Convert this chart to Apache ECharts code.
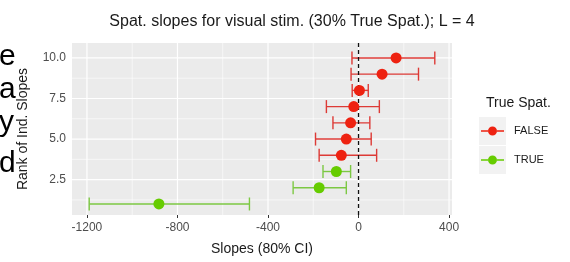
<!DOCTYPE html>
<html>
<head>
<meta charset="utf-8">
<script src="https://cdn.jsdelivr.net/npm/echarts@6/dist/echarts.min.js"></script>
<style>
  html, body { margin: 0; padding: 0; background: #fff; }
  #chart { width: 570px; height: 262px; }
</style>
</head>
<body>
<div id="chart"></div>
<script>
// rank of individual slope, slope estimate, 80% CI bounds
var ranks = [1, 2, 3, 4, 5, 6, 7, 8, 9, 10];
var slopes = [-882, -174, -98, -76, -54, -35, -21, 4, 104, 166];
var lower = [-1190, -289, -157, -174, -190, -113, -142, -28, -33, -29];
var upper = [-482, -54, -35, 80, 56, 50, 92, 43, 265, 337];
var trueSpat = [true, true, true, false, false, false, false, false, false, false];

var xTicks = [-1200, -800, -400, 0, 400];
var xMinor = [-1000, -600, -200, 200];
var yTicks = [2.5, 5, 7.5, 10];
var yMinor = [1.25, 3.75, 6.25, 8.75];

var xMin = -1266, xMax = 413;
var yMin = 0.32, yMax = 10.92;

var colors = {
  FALSE: { point: '#ee2211', bar: '#dd3a36' },
  TRUE: { point: '#66cc00', bar: '#7cc843' }
};

function pick(flag) {
  var pts = [], bars = [];
  ranks.forEach(function (r, i) {
    if (trueSpat[i] === flag) {
      pts.push([slopes[i], r]);
      bars.push([lower[i], upper[i], r]);
    }
  });
  return { pts: pts, bars: bars };
}
var grpF = pick(false), grpT = pick(true);

function errorBars(color) {
  return function (params, api) {
    var y = api.value(2);
    var a = api.coord([api.value(0), y]);
    var b = api.coord([api.value(1), y]);
    var h = 6.5;
    var st = { stroke: color, lineWidth: 1.4 };
    return {
      type: 'group',
      children: [
        { type: 'line', shape: { x1: a[0], y1: a[1], x2: b[0], y2: b[1] }, style: st },
        { type: 'line', shape: { x1: a[0], y1: a[1] - h, x2: a[0], y2: a[1] + h }, style: st },
        { type: 'line', shape: { x1: b[0], y1: b[1] - h, x2: b[0], y2: b[1] + h }, style: st }
      ]
    };
  };
}

function vLines(width, dash, color) {
  return function (params, api) {
    var cs = params.coordSys;
    var p = api.coord([api.value(0), yMin]);
    return {
      type: 'line',
      shape: { x1: p[0], y1: cs.y, x2: p[0], y2: cs.y + cs.height },
      style: { stroke: color, lineWidth: width, lineDash: dash }
    };
  };
}
function hLines(width) {
  return function (params, api) {
    var cs = params.coordSys;
    var p = api.coord([xMin, api.value(1)]);
    return {
      type: 'line',
      shape: { x1: cs.x, y1: p[1], x2: cs.x + cs.width, y2: p[1] },
      style: { stroke: '#ffffff', lineWidth: width }
    };
  };
}

var legendIcon = 'path://M0,4L7,4L7,5.4L0,5.4Z M16,4L23,4L23,5.4L16,5.4Z M7,4.7a4.5,4.5 0 1,0 9,0a4.5,4.5 0 1,0 -9,0Z';
var letterFont = '30px "Liberation Sans"';

var chart = echarts.init(document.getElementById('chart'));
chart.setOption({
  animation: false,
  title: [
    {
      text: 'Spat. slopes for visual stim. (30% True Spat.); L = 4',
      left: 287, top: 9, textAlign: 'center',
      textStyle: { fontFamily: 'Liberation Sans', fontSize: 16, fontWeight: 'normal', color: '#1a1a1a' }
    },
    {
      text: 'True Spat.',
      left: 481, top: 91,
      textStyle: { fontFamily: 'Liberation Sans', fontSize: 14, fontWeight: 'normal', color: '#1a1a1a' }
    }
  ],
  graphic: [
    // fragments of neighbouring page text, cut at the left edge
    { type: 'text', left: -1, top: 42, style: { text: 'e', font: letterFont, fill: '#000' } },
    { type: 'text', left: -1, top: 75, style: { text: 'a', font: letterFont, fill: '#000' } },
    { type: 'text', left: -1, top: 108, style: { text: 'y', font: letterFont, fill: '#000' } },
    { type: 'text', left: -1, top: 149, style: { text: 'd', font: letterFont, fill: '#000' } },
    // legend key backgrounds
    { type: 'rect', left: 479, top: 117, shape: { width: 27, height: 28 }, style: { fill: '#f2f2f2' }, z: 0 },
    { type: 'rect', left: 479, top: 146, shape: { width: 27, height: 28 }, style: { fill: '#f2f2f2' }, z: 0 }
  ],
  legend: {
    data: ['FALSE', 'TRUE'],
    orient: 'vertical',
    left: 481, top: 124.5, padding: 0,
    itemWidth: 23, itemHeight: 9, itemGap: 16,
    icon: legendIcon,
    textStyle: { fontFamily: 'Liberation Sans', fontSize: 11, color: '#1a1a1a', padding: [0, 0, 0, 5], lineHeight: 13 },
    selectedMode: false
  },
  grid: {
    left: 72, right: 118, top: 43, bottom: 47,
    show: true, backgroundColor: '#ebebeb', borderWidth: 0
  },
  xAxis: {
    type: 'value', min: xMin, max: xMax,
    name: 'Slopes (80% CI)', nameLocation: 'middle', nameGap: 27,
    nameTextStyle: { fontFamily: 'Liberation Sans', fontSize: 14, color: '#1a1a1a' },
    axisLine: { show: false },
    axisTick: { show: true, length: 3, customValues: xTicks, lineStyle: { color: '#333333' } },
    axisLabel: {
      customValues: xTicks, margin: 7, fontFamily: 'Liberation Sans', fontSize: 12, color: '#4d4d4d',
      formatter: function (v) { return String(v); }
    },
    splitLine: { show: false }
  },
  yAxis: {
    type: 'value', min: yMin, max: yMax,
    name: 'Rank of Ind. Slopes', nameLocation: 'middle', nameGap: 42,
    nameTextStyle: { fontFamily: 'Liberation Sans', fontSize: 14, color: '#1a1a1a' },
    axisLine: { show: false },
    axisTick: { show: true, length: 3, customValues: yTicks, lineStyle: { color: '#333333' } },
    axisLabel: {
      customValues: yTicks, margin: 6, fontFamily: 'Liberation Sans', fontSize: 12, color: '#4d4d4d',
      formatter: function (v) { return v.toFixed(1); }
    },
    splitLine: { show: false }
  },
  series: [
    { type: 'custom', silent: true, z: 1, data: xMinor.map(function (v) { return [v, 1]; }), renderItem: vLines(0.6, null, '#ffffff') },
    { type: 'custom', silent: true, z: 1, data: xTicks.map(function (v) { return [v, 1]; }), renderItem: vLines(1.2, null, '#ffffff') },
    { type: 'custom', silent: true, z: 1, data: yMinor.map(function (v) { return [0, v]; }), renderItem: hLines(0.6) },
    { type: 'custom', silent: true, z: 1, data: yTicks.map(function (v) { return [0, v]; }), renderItem: hLines(1.2) },
    { type: 'custom', name: 'barsF', silent: true, z: 2, data: grpF.bars, renderItem: errorBars(colors.FALSE.bar) },
    { type: 'custom', name: 'barsT', silent: true, z: 2, data: grpT.bars, renderItem: errorBars(colors.TRUE.bar) },
    { type: 'custom', silent: true, z: 3, data: [[0, 1]], renderItem: vLines(1.3, [4, 3], '#111111') },
    { type: 'scatter', name: 'FALSE', z: 4, data: grpF.pts, symbolSize: 11, itemStyle: { color: colors.FALSE.point, opacity: 1 } },
    { type: 'scatter', name: 'TRUE', z: 4, data: grpT.pts, symbolSize: 11, itemStyle: { color: colors.TRUE.point, opacity: 1 } }
  ]
});
</script>
</body>
</html>
